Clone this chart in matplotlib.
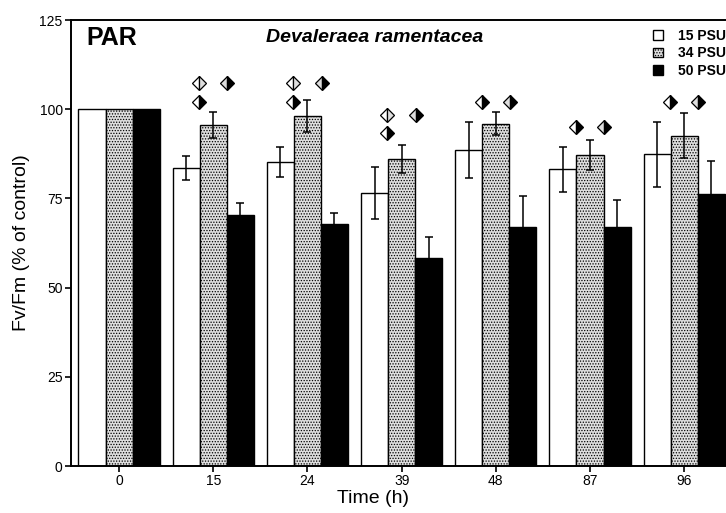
import matplotlib
matplotlib.use("Agg")
import matplotlib.pyplot as plt
import numpy as np

plt.rcParams['font.family'] = ['Liberation Sans', 'DejaVu Sans']
plt.rcParams['hatch.color'] = '#7a7a7a'
plt.rcParams['hatch.linewidth'] = 0.6

# Fv/Fm (% of control) at each sampling time, three salinities
times = ['0', '15', '24', '39', '48', '87', '96']
psu15 = [100, 83.6, 85.3, 76.6, 88.6, 83.2, 87.4]
psu34 = [100, 95.6, 98.1, 86.0, 95.9, 87.2, 92.6]
psu50 = [100, 70.4, 67.7, 58.4, 67.1, 67.1, 76.1]
err15 = [0, 3.4, 4.2, 7.3, 7.9, 6.3, 9.1]
err34 = [0, 3.7, 4.5, 4.0, 3.2, 4.2, 6.4]
err50 = [0, 3.3, 3.3, 5.9, 8.6, 7.5, 9.4]

# significance diamonds: per time point, pairs compared (ws = 15/34, sb = 34/50, wb = 15/50)
sig_pairs = [[], ['ws', 'sb', 'wb'], ['ws', 'sb', 'wb'], ['ws', 'sb', 'wb'],
             ['wb', 'sb'], ['wb', 'sb'], ['wb', 'sb']]
sig_level = [None, 107.3, 107.3, 98.4, 102.0, 95.0, 102.0]

stipple = '#dedede'
x = np.arange(len(times))
w = 0.287

fig = plt.figure(figsize=(7.26, 5.13), dpi=100)
ax = fig.add_axes([71 / 726, 1 - 466 / 513, 655 / 726, 446 / 513])

b1 = ax.bar(x - w, psu15, w, color='white', edgecolor='black', linewidth=1.0, label='15 PSU', zorder=2)
b2 = ax.bar(x, psu34, w, color=stipple, edgecolor='black', linewidth=1.0, hatch='......', label='34 PSU', zorder=2)
b3 = ax.bar(x + w, psu50, w, color='black', edgecolor='black', linewidth=1.0, label='50 PSU', zorder=2)

for off, vals, errs in [(-w, psu15, err15), (0, psu34, err34), (w, psu50, err50)]:
    ax.errorbar(x[1:] + off, vals[1:], yerr=errs[1:], fmt='none', ecolor='black',
                elinewidth=1.1, capsize=3, capthick=1.1, zorder=3)

# diamond markers: left half colour, right half colour
halves = {'ws': ('white', stipple), 'sb': (stipple, 'black'), 'wb': ('white', 'black')}
for i, pairs in enumerate(sig_pairs):
    for k, p in enumerate(pairs):
        dx = -0.15 if k != 1 else 0.15
        yy = sig_level[i] - (5.2 if k == 2 else 0)
        left, right = halves[p]
        ax.plot(x[i] + dx, yy, marker='D', markersize=7.5, fillstyle='left',
                markerfacecolor=left, markerfacecoloralt=right,
                markeredgecolor='black', markeredgewidth=0.9, zorder=4)

ax.set_xlim(-0.51, 6.444)
ax.set_ylim(0, 125)
ax.set_yticks([0, 25, 50, 75, 100, 125])
ax.set_xticks(x)
ax.set_xticklabels(times)
ax.tick_params(axis='both', direction='out', length=4, width=1.2, labelsize=10, pad=2)

for s in ['left', 'bottom', 'top']:
    ax.spines[s].set_linewidth(1.4)
ax.spines['right'].set_visible(False)

ax.set_ylabel('Fv/Fm (% of control)', fontsize=14)
ax.yaxis.set_label_coords(-0.0626, 0.5)
ax.set_xlabel('Time (h)', fontsize=14, va='top')
ax.xaxis.set_label_coords(0.461, -0.054)

ax.text(0.024, 0.96, 'PAR', transform=ax.transAxes, fontsize=18, fontweight='bold',
        va='center', ha='left')
ax.text(0.463, 0.96, 'Devaleraea ramentacea', transform=ax.transAxes, fontsize=14,
        fontweight='bold', style='italic', va='center', ha='center')

ax.legend(handles=[b1, b2, b3], loc='upper right', bbox_to_anchor=(1.0, 0.98),
          frameon=False, prop={'weight': 'bold', 'size': 10},
          handlelength=0.7, handleheight=0.7, handletextpad=1.1, labelspacing=0.25,
          borderaxespad=0, borderpad=0)

fig.savefig('out.png', dpi=100)
